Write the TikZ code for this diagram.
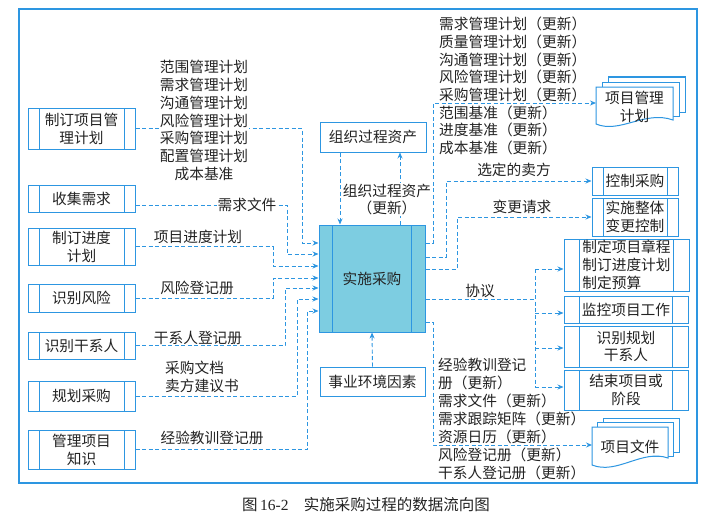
\documentclass[tikz,border=0pt]{standalone}
\usepackage{fontspec}
\newfontfamily\cjk{Noto Sans CJK SC}
\newfontfamily\capserif{Liberation Serif}
\usetikzlibrary{arrows.meta,calc}
\definecolor{lb}{RGB}{45,150,225}
\definecolor{cfill}{RGB}{125,205,225}
\definecolor{txt}{RGB}{35,35,35}
\begin{document}
\begin{tikzpicture}[x=1pt,y=-1pt,
  every node/.style={font=\cjk\fontsize{14.7}{17.8}\selectfont, text=txt, inner sep=0pt},
  plainbox/.style={draw=lb, line width=1pt, fill=white, align=center},
  proc/.style={draw=lb, line width=1pt, fill=white, align=center, path picture={
     \draw[lb,line width=1pt] ([xshift=#1]path picture bounding box.north west) -- ([xshift=#1]path picture bounding box.south west);
     \draw[lb,line width=1pt] ([xshift=-#1]path picture bounding box.north east) -- ([xshift=-#1]path picture bounding box.south east);}},
  flow/.style={draw=lb, line width=0.9pt, dash pattern=on 4pt off 2.5pt, -{Stealth[length=6pt,width=5pt]}},
  link/.style={draw=lb, line width=0.9pt, dash pattern=on 4pt off 2.5pt},
  docsheet/.style={draw=lb, line width=1pt, fill=white},
  lbl/.style={fill=white, inner sep=1pt}
]
\useasboundingbox (0,0) rectangle (720,519);
\fill[white] (0,0) rectangle (720,519);
\draw[lb, line width=1.3pt] (19,9) rectangle (697,483);

% left process boxes
\node[proc=11pt, minimum width=107pt, minimum height=41pt] (pmp) at (81.5,128.5) {制订项目管\\理计划};
\node[proc=11pt, minimum width=107pt, minimum height=27pt] (cs) at (81.5,198.5) {收集需求};
\node[proc=11pt, minimum width=107pt, minimum height=37pt] (sched) at (81.5,246.5) {制订进度\\计划};
\node[proc=11pt, minimum width=107pt, minimum height=28pt] (risk) at (81.5,298) {识别风险};
\node[proc=11pt, minimum width=107pt, minimum height=27pt] (stake) at (81.5,345.5) {识别干系人};
\node[proc=11pt, minimum width=107pt, minimum height=30pt] (plan) at (81.5,396) {规划采购};
\node[proc=11pt, minimum width=107pt, minimum height=39pt] (know) at (81.5,449.5) {管理项目\\知识};

% centre
\node[proc=13.5pt, fill=cfill, minimum width=106pt, minimum height=107pt] (ip) at (372,278.5) {实施采购};
\node[plainbox, minimum width=106pt, minimum height=30pt] (opa) at (373,137) {组织过程资产};
\node[plainbox, minimum width=105pt, minimum height=29pt] (eef) at (372.5,381.5) {事业环境因素};

% right process boxes
\node[proc=11pt, minimum width=86pt, minimum height=28pt] (ctl) at (635,181) {控制采购};
\node[proc=11pt, minimum width=86pt, minimum height=38pt] (ich) at (635,217) {实施整体\\变更控制};
\node[proc=15.5pt, minimum width=125pt, minimum height=52pt, align=left] (dev) at (626.5,265) {制定项目章程\\制订进度计划\\制定预算};
\node[proc=15.5pt, minimum width=124pt, minimum height=27pt] (mon) at (626,309.5) {监控项目工作};
\node[proc=15.5pt, minimum width=124pt, minimum height=41pt] (ids) at (626,346.5) {识别规划\\干系人};
\node[proc=15.5pt, minimum width=124pt, minimum height=40pt] (close) at (626,390) {结束项目或\\阶段};

% documents: project management plan
\filldraw[docsheet] (608,77) rectangle (685,112);
\filldraw[docsheet] (602,82) rectangle (679,116);
\filldraw[docsheet] (596,124) -- (596,87) -- (673,87) -- (673,120) .. controls (645,110) and (620,134) .. (596,124) -- cycle;
\node[align=center] (pmpdoc) at (634.5,106.5) {项目管理\\计划};
\coordinate (pmpin) at (596,103);
% documents: project documents
\filldraw[docsheet] (603,418) rectangle (679,452);
\filldraw[docsheet] (597,422.5) rectangle (673,456);
\filldraw[docsheet] (592,465) -- (592,427) -- (668,427) -- (668,458) .. controls (642,449) and (617,475) .. (592,465) -- cycle;
\node (pfdoc) at (630,447) {项目文件};
\coordinate (pfin) at (592,445);

% left inputs
\draw[flow] (pmp.east) -- (302,128.5) |- (ip.west |- 0,243);
\draw[flow] ($(cs.east)+(0,6.5)$) -- (287,205) |- (ip.west |- 0,254);
\draw[flow] (sched.east) -- (273,246.5) |- (ip.west |- 0,266);
\draw[flow] (risk.east) -- (273,298) |- (ip.west |- 0,278);
\draw[flow] (stake.east) -- (285,345.5) |- (ip.west |- 0,288);
\draw[flow] (plan.east) -- (297,396) |- (ip.west |- 0,299);
\draw[flow] (know.east) -- (307,449.5) |- (ip.west |- 0,311);

\node[lbl, align=center] at (204,120.5) {范围管理计划\\需求管理计划\\沟通管理计划\\风险管理计划\\采购管理计划\\配置管理计划\\成本基准};
\node[lbl] at (247,205) {需求文件};
\node at (198,237) {项目进度计划};
\node at (197,288) {风险登记册};
\node at (198,338) {干系人登记册};
\node[anchor=west, align=left] at (165,377) {采购文档\\卖方建议书};
\node at (212,438) {经验教训登记册};

% OPA / EEF
\draw[flow] (opa.south -| 340,0) -- (ip.north -| 340,0);
\draw[flow] (ip.north -| 400,0) -- (opa.south -| 400,0);
\node[lbl, align=center] at (387,199.5) {组织过程资产\\（更新）};
\draw[flow] (eef.north) -- (ip.south);

% right outputs
\draw[flow] (ip.east |- 0,243) -- (433,243) |- (pmpin);
\draw[flow] (ip.east |- 0,257) -- (446,257) |- (ctl.west);
\draw[flow] (ip.east |- 0,269) -- (457,269) |- (ich.west);
\draw[link] (ip.east |- 0,299) -- (535,299);
\draw[link] (535,269) -- (535,387);
\draw[flow] (535,269) -- (dev.west |- 0,269);
\draw[flow] (535,313) -- (mon.west |- 0,313);
\draw[flow] (535,348) -- (ids.west |- 0,348);
\draw[flow] (535,387) -- (close.west |- 0,387);
\draw[flow] (ip.east |- 0,322) -- (433,322) |- (pfin);

\node[anchor=west, align=left, font=\cjk\fontsize{14.7}{17.7}\selectfont] at (439,86) {需求管理计划（更新）\\质量管理计划（更新）\\沟通管理计划（更新）\\风险管理计划（更新）\\采购管理计划（更新）\\范围基准（更新）\\进度基准（更新）\\成本基准（更新）};
\node at (514,170) {选定的卖方};
\node at (522,207) {变更请求};
\node at (480,291) {协议};
\node[anchor=west, align=left, font=\cjk\fontsize{14.7}{18}\selectfont] at (438,419) {经验教训登记\\册（更新）\\需求文件（更新）\\需求跟踪矩阵（更新）\\资源日历（更新）\\风险登记册（更新）\\干系人登记册（更新）};

% caption
\node[font=\cjk\fontsize{15.5}{18}\selectfont] (cap) at (366,505) {图\,{\capserif 16-2}\hspace{1em}实施采购过程的数据流向图};
\end{tikzpicture}
\end{document}
